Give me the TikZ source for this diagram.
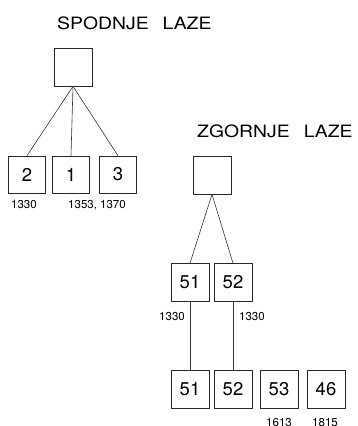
\documentclass[tikz,border=0pt]{standalone}
\usepackage{fontspec}
\setmainfont{TeX Gyre Heros}
\newfontfamily\ttlfont[FakeStretch=1.14]{TeX Gyre Heros}
\begin{document}
\begin{tikzpicture}[x=1pt,y=-1pt,
  box/.style={draw=black!85, line width=0.6pt, minimum width=#1, minimum height=#1, inner sep=0pt, font=\fontsize{18.5}{20}\selectfont},
  box/.default=37pt,
  lbl/.style={inner sep=0pt, font=\fontsize{11.5}{13}\selectfont},
  ttl/.style={inner sep=0pt, font=\ttlfont\fontsize{17}{19}\selectfont},
  edge/.style={draw=black!80, line width=0.6pt}]
\clip (0,0) rectangle (357,426);
\useasboundingbox (0,0) rectangle (357,426);
% titles
\node[ttl, anchor=west] (t1) at (57,23) {SPODNJE\hspace{14pt}LAZE};
\node[ttl, anchor=west] (t2) at (197,131) {ZGORNJE\hspace{14pt}LAZE};
% left tree
\node[box=38pt] (lt) at (73,67) {};
\node[box=37pt] (b2) at (27,174.5) {2};
\node[box=37pt] (b1) at (71,174.5) {1};
\node[box=37pt] (b3) at (118,174.5) {3};
\node[lbl] (l2) at (24,205) {1330};
\node[lbl] (l13) at (97,205) {1353, 1370};
\draw[edge] (lt.south) -- (b2.north);
\draw[edge] (lt.south) -- (b1.north);
\draw[edge] (lt.south) -- (b3.north);
% right tree
\node[box=38pt] (rt) at (212,175) {};
\node[box=38pt] (m51) at (190,282.5) {51};
\node[box=38pt] (m52) at (233,282.5) {52};
\node[lbl, anchor=east] (lm51) at (185,317) {1330};
\node[lbl, anchor=west] (lm52) at (239,317) {1330};
\node[box=38pt] (d51) at (190,389.5) {51};
\node[box=38pt] (d52) at (233,389.5) {52};
\node[box=38pt] (d53) at (279,389.5) {53};
\node[box=38pt] (d46) at (326,389.5) {46};
\node[lbl] (l53) at (279,422.5) {1613};
\node[lbl] (l46) at (325,422.5) {1815};
\draw[edge] (rt.south) -- (m51.north);
\draw[edge] (rt.south) -- (m52.north);
\draw[edge] (m51.south) -- (d51.north);
\draw[edge] (m52.south) -- (d52.north);
\end{tikzpicture}
\end{document}
